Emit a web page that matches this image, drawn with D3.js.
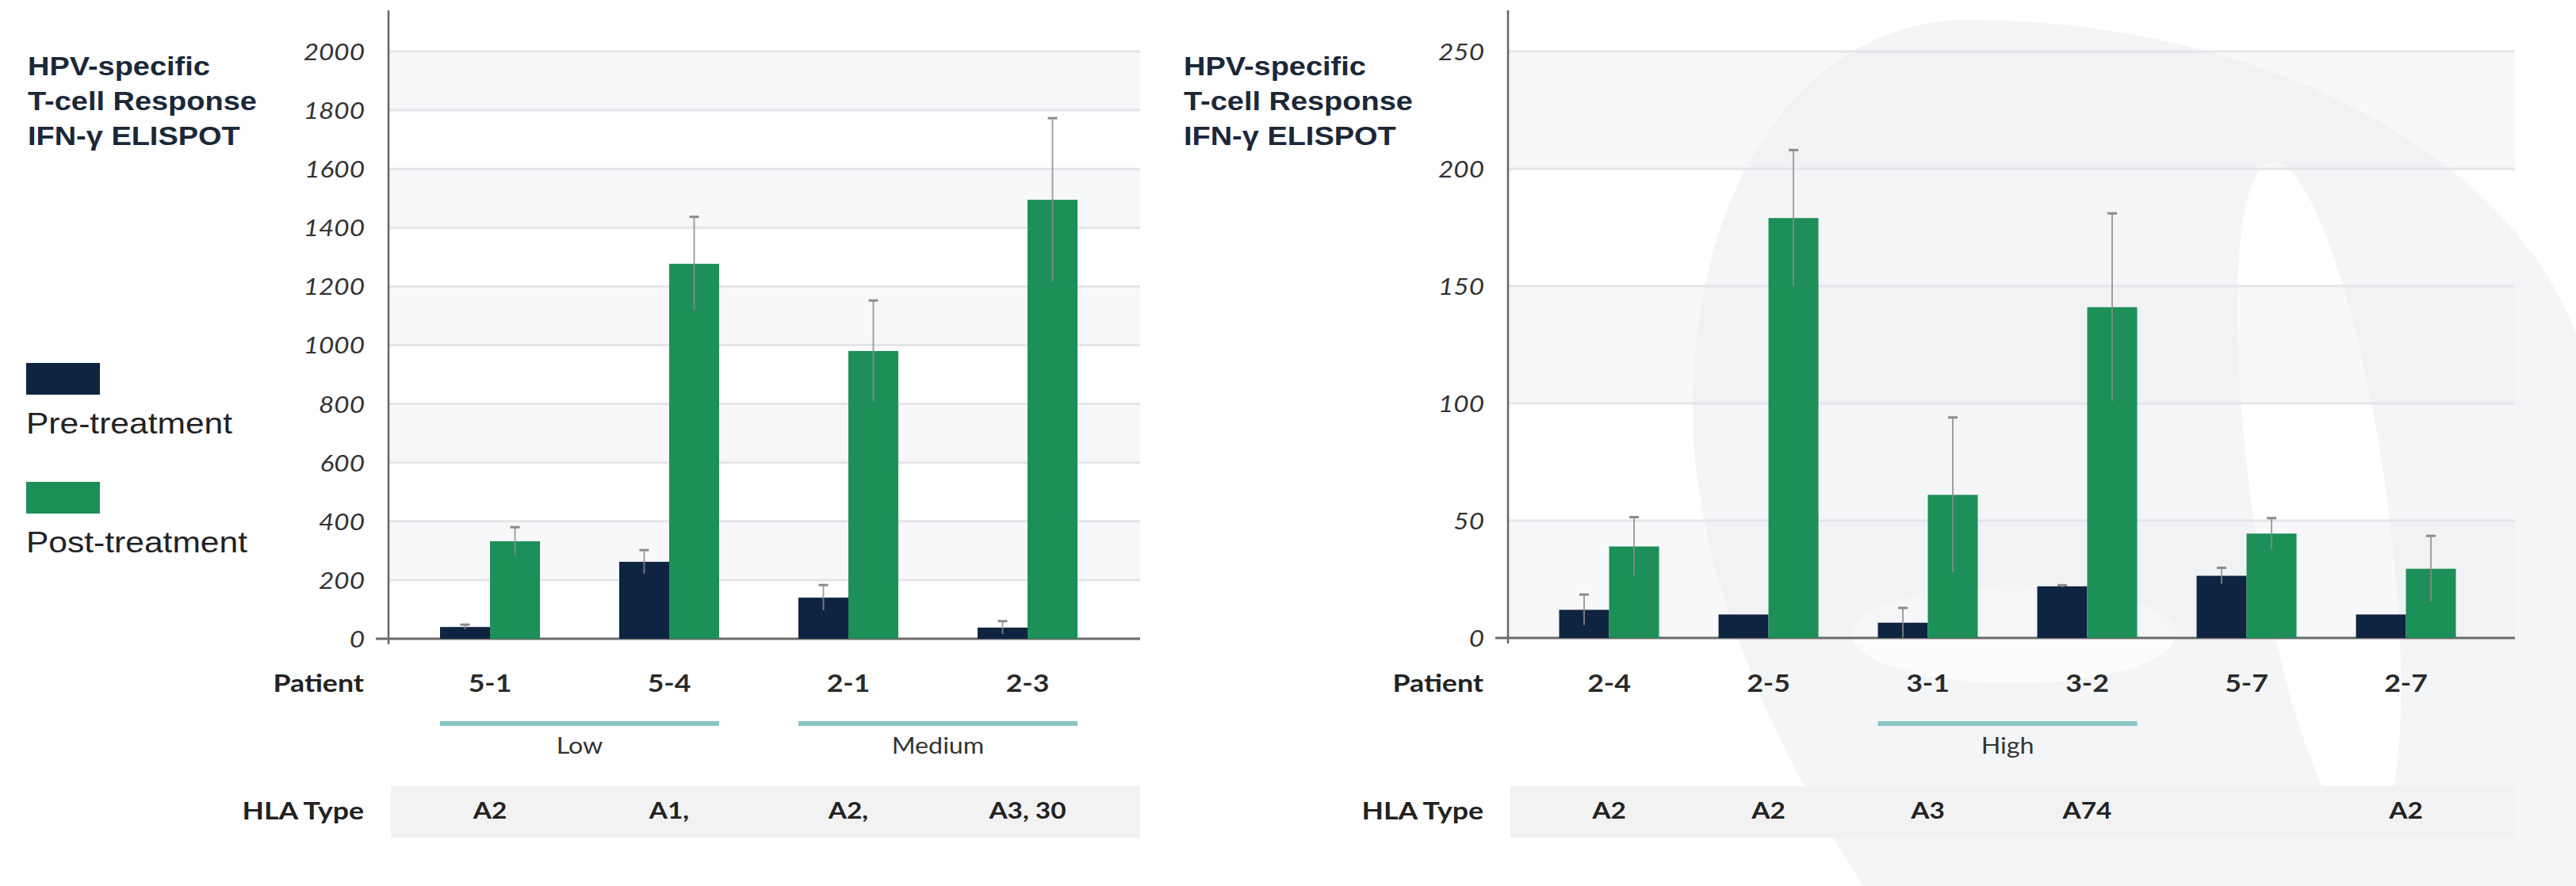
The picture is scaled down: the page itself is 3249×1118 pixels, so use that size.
<!DOCTYPE html>
<html>
<head>
<meta charset="utf-8">
<script src="https://cdn.jsdelivr.net/npm/d3@7/dist/d3.min.js"></script>
<style>
  html, body { margin: 0; padding: 0; background: #fff; }
  svg { display: block; }
  .title { font-family: "Liberation Sans", Arial, sans-serif; font-weight: 700; font-size: 33px; fill: #1b2838; }
  .legend { font-family: "Liberation Sans", Arial, sans-serif; font-size: 37px; fill: #222; }
  .tick text { font-family: Lato, sans-serif; font-style: italic; font-size: 29px; fill: #333; }
  .rowhead { font-family: Lato, sans-serif; font-weight: 700; font-size: 31px; fill: #222; }
  .pid { font-family: Lato, sans-serif; font-weight: 700; font-size: 31px; fill: #2a2a2a; }
  .grp { font-family: Lato, sans-serif; font-size: 28px; fill: #333; }
  .hla { font-family: Lato, sans-serif; font-weight: 700; font-size: 29px; fill: #222; }
</style>
</head>
<body>
<svg id="chart" width="3249" height="1118"></svg>
<script>
// ---- data: HPV-specific IFN-γ ELISPOT responses per patient ----
const leftPatients = ["5-1", "5-4", "2-1", "2-3"];
const leftPre      = [40, 262, 140, 38];
const leftPreErr   = [8, 40, 43, 22];
const leftPost     = [332, 1277, 980, 1495];
const leftPostErr  = [48, 160, 172, 278];
const leftHLA      = ["A2", "A1,", "A2,", "A3, 30"];
const leftTicks    = [0, 200, 400, 600, 800, 1000, 1200, 1400, 1600, 1800, 2000];
const leftGroups   = [{ label: "Low", from: "5-1", to: "5-4" },
                      { label: "Medium", from: "2-1", to: "2-3" }];

const rightPatients = ["2-4", "2-5", "3-1", "3-2", "5-7", "2-7"];
const rightPre      = [12, 10, 6.5, 22, 26.5, 10];
const rightPreErr   = [6.5, 0, 6.3, 0.5, 3.4, 0];
const rightPost     = [39, 179, 61, 141, 44.5, 29.5];
const rightPostErr  = [12.5, 29, 33, 40, 6.6, 14];
const rightHLA      = ["A2", "A2", "A3", "A74", "", "A2"];
const rightTicks    = [0, 50, 100, 150, 200, 250];
const rightGroups   = [{ label: "High", from: "3-1", to: "3-2" }];

const titleLines = ["HPV-specific", "T-cell Response", "IFN-γ ELISPOT"];
const seriesNames = ["Pre-treatment", "Post-treatment"];
const seriesKeys  = ["pre", "post"];

// ---- style ----
const COLORS = { pre: "#0f2441", post: "#1d8f58" };
const SX = 1.15;                       // horizontal text stretch
const svg = d3.select("#chart");

function label(g, x, y, s, cls, anchor) {
  return g.append("text")
    .attr("class", cls)
    .attr("text-anchor", anchor || "start")
    .attr("transform", `translate(${x},${y}) scale(${SX},1)`)
    .text(s);
}

// faint background logo behind the right panel
const wm = svg.append("g").attr("class", "watermark");
wm.append("path")
  .attr("d", "M2480,25 C2300,25 2135,200 2135,520 C2135,720 2240,950 2350,1118 L3249,1118 L3249,420 C3150,170 2820,25 2480,25 Z")
  .attr("fill", "#f4f5f6");
wm.append("ellipse")
  .attr("cx", 2925).attr("cy", 630).attr("rx", 85).attr("ry", 430)
  .attr("transform", "rotate(-8,2925,630)")
  .attr("fill", "#fff");
wm.append("ellipse")
  .attr("cx", 2540).attr("cy", 800).attr("rx", 205).attr("ry", 62)
  .attr("fill", "#fcfcfc");

function panel(cfg) {
  const g = svg.append("g");
  const { axisX, right, y0, yTop, domainMax } = cfg;

  const y = d3.scaleLinear().domain([0, domainMax]).range([y0, yTop]);
  const x = d3.scaleBand().domain(cfg.patients).range(cfg.xRange);
  const barW = 63;
  const inner = d3.scaleBand().domain(seriesKeys)
    .range([0, x.bandwidth()])
    .paddingOuter((x.bandwidth() / barW - 2) / 2);

  // alternating horizontal bands
  const ticks = cfg.ticks;
  for (let i = 0; i < ticks.length - 1; i++) {
    const bandTop = ticks[i + 1];
    const shaded = ((ticks.length - 2 - i) % 2) === 0;
    if (shaded) {
      g.append("rect")
        .attr("x", axisX).attr("width", right - axisX)
        .attr("y", y(bandTop)).attr("height", y(ticks[i]) - y(bandTop))
        .attr("fill", "#eef0f2").attr("opacity", 0.45);
    }
  }

  // gridlines
  g.append("g").selectAll("line").data(ticks.filter(t => t > 0)).join("line")
    .attr("x1", axisX).attr("x2", right)
    .attr("y1", d => y(d)).attr("y2", d => y(d))
    .attr("stroke", "#e4e6e9").attr("stroke-width", 3);

  // y axis labels
  const yAxis = g.append("g").attr("transform", `translate(${axisX},0)`)
    .call(d3.axisLeft(y).tickValues(ticks).tickSize(0).tickPadding(0).tickFormat(d3.format("d")));
  yAxis.select(".domain").remove();
  yAxis.selectAll(".tick text")
    .attr("x", 0).attr("dy", "0.36em")
    .attr("transform", `translate(-30,0) scale(${SX},1)`);

  // axis lines
  g.append("line").attr("x1", axisX).attr("x2", axisX).attr("y1", 13).attr("y2", y0 + 7)
    .attr("stroke", "#666").attr("stroke-width", 2.5);
  g.append("line").attr("x1", axisX - 16).attr("x2", right).attr("y1", y0).attr("y2", y0)
    .attr("stroke", "#6b6b6b").attr("stroke-width", 3);

  // bars
  const rows = cfg.patients.map((p, i) => ({
    p,
    vals: [
      { key: "pre", v: cfg.pre[i], e: cfg.preErr[i] },
      { key: "post", v: cfg.post[i], e: cfg.postErr[i] }
    ]
  }));
  const grp = g.append("g").selectAll("g").data(rows).join("g")
    .attr("transform", d => `translate(${x(d.p)},0)`);
  grp.selectAll("rect").data(d => d.vals).join("rect")
    .attr("x", d => inner(d.key)).attr("width", inner.bandwidth())
    .attr("y", d => y(d.v)).attr("height", d => y0 - y(d.v))
    .attr("fill", d => COLORS[d.key]);

  // error bars
  const eb = grp.selectAll("g.err").data(d => d.vals.filter(v => v.e > 0)).join("g").attr("class", "err");
  eb.append("line")
    .attr("x1", d => inner(d.key) + inner.bandwidth() / 2)
    .attr("x2", d => inner(d.key) + inner.bandwidth() / 2)
    .attr("y1", d => y(d.v + d.e)).attr("y2", d => y(Math.max(0, d.v - d.e)))
    .attr("stroke", "#8c8c8c").attr("stroke-width", 2).attr("opacity", 0.8);
  eb.append("line")
    .attr("x1", d => inner(d.key) + inner.bandwidth() / 2 - 6)
    .attr("x2", d => inner(d.key) + inner.bandwidth() / 2 + 6)
    .attr("y1", d => y(d.v + d.e)).attr("y2", d => y(d.v + d.e))
    .attr("stroke", "#8c8c8c").attr("stroke-width", 3);

  // patient row
  const center = p => x(p) + x.bandwidth() / 2;
  label(g, axisX - 31, 873, "Patient", "rowhead", "end");
  cfg.patients.forEach(p => label(g, center(p), 873, p, "pid", "middle"));

  // response groups
  cfg.groups.forEach(gr => {
    const x1 = x(gr.from) + inner("pre");
    const x2 = x(gr.to) + inner("post") + inner.bandwidth();
    g.append("line").attr("x1", x1).attr("x2", x2).attr("y1", 913).attr("y2", 913)
      .attr("stroke", "#88c6c2").attr("stroke-width", 6);
    label(g, (x1 + x2) / 2, 951, gr.label, "grp", "middle");
  });

  // HLA row
  g.append("rect").attr("x", axisX + 3).attr("width", right - axisX - 3)
    .attr("y", 992).attr("height", 65).attr("fill", "#f2f2f2");
  label(g, axisX - 31, 1034, "HLA Type", "rowhead", "end");
  cfg.patients.forEach((p, i) => label(g, center(p), 1033, cfg.hla[i], "hla", "middle"));

  // title
  titleLines.forEach((t, i) => label(g, cfg.titleX, 95 + i * 44, t, "title", "start"));
}

panel({
  patients: leftPatients, pre: leftPre, preErr: leftPreErr, post: leftPost, postErr: leftPostErr,
  hla: leftHLA, ticks: leftTicks, groups: leftGroups, domainMax: 2000,
  axisX: 490, right: 1438, y0: 806, yTop: 65, xRange: [505, 1409], titleX: 35
});
panel({
  patients: rightPatients, pre: rightPre, preErr: rightPreErr, post: rightPost, postErr: rightPostErr,
  hla: rightHLA, ticks: rightTicks, groups: rightGroups, domainMax: 250,
  axisX: 1902, right: 3172, y0: 805, yTop: 65, xRange: [1929, 3135], titleX: 1493
});

// legend
const lg = svg.append("g");
seriesKeys.forEach((k, i) => {
  const top = 458 + i * 150;
  lg.append("rect").attr("x", 33).attr("y", top).attr("width", 93).attr("height", 40).attr("fill", COLORS[k]);
  label(lg, 33, top + 89, seriesNames[i], "legend", "start");
});
</script>
</body>
</html>
